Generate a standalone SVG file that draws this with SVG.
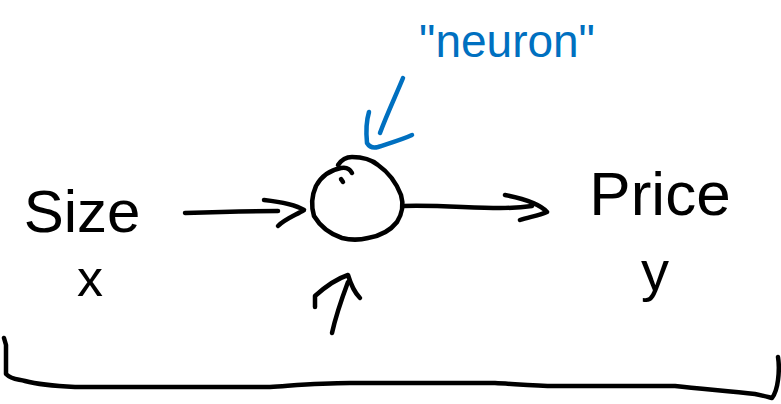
<svg xmlns="http://www.w3.org/2000/svg" width="781" height="404" viewBox="0 0 781 404">
<style>
.ink{fill:none;stroke:#000;stroke-width:4.5;stroke-linecap:round;stroke-linejoin:round}
.blue{fill:none;stroke:#0070c0;stroke-width:4.5;stroke-linecap:round;stroke-linejoin:round}
.t{font-family:"Liberation Sans",Arial,sans-serif;fill:#000;text-anchor:middle}
.tb{font-family:"Liberation Sans",Arial,sans-serif;fill:#0070c0;text-anchor:middle}
</style>
<rect width="781" height="404" fill="#fff"/>
<g id="input">
<text class="t" x="82" y="232" font-size="60">Size</text>
<text class="t" x="90" y="296" font-size="52">x</text>
</g>
<g id="neuron">
<path class="ink" d="M338,165 C342,159 346,157 352,157 C362,157 372,160 378,165 C388,172 396,182 401,195 C404,205 402,214 397,222 C390,231 380,236 368,238 C360,240 350,240 342,238 C330,234 320,226 314,216 C311,206 312,195 316,186 C321,177 330,170 341,168 C346,167 350,169 352,173"/>
<path class="ink" d="M341,179 L343,182"/>
</g>
<g id="neuron-label">
<text class="tb" x="507" y="57" font-size="46">"neuron"</text>
</g>
<g id="output">
<text class="t" x="660" y="215" font-size="62">Price</text>
<text class="t" x="655" y="290" font-size="56">y</text>
</g>
<g id="connectors">
<path class="ink" d="M185,213 C210,212 240,211 278,211"/>
<path class="ink" d="M264,200 C282,202 296,205 304,210 C296,215 285,219 278,226"/>
<path class="ink" d="M403,206 C440,205 470,208 500,208 C515,208 525,207 532,206"/>
<path class="ink" d="M505,195 C525,199 540,204 547,212 C538,216 528,217 520,220"/>
<path class="ink" d="M332,333 C336,315 342,298 348,282"/>
<path class="ink" d="M315,307 L315,296 C325,287 336,279 348,275 C351,285 354,292 360,298"/>
<path class="blue" d="M403,78 C396,95 387,114 380,133"/>
<path class="blue" d="M369,112 C366,122 366,133 367,143 C370,148 374,148 378,147 C390,143 401,140 412,135"/>
<path class="ink" d="M4,338 L6,345 L6,374 C12,380 18,379 25,381 C40,385 55,386 75,387 L270,387 C300,385 320,383 350,383 L495,383 C515,384 535,386 555,386 L675,386 C700,389 730,391 755,394 C765,396 768,397 772,398 C775,394 777,388 778,380 C779,372 779,363 778,357"/>
</g>
</svg>
